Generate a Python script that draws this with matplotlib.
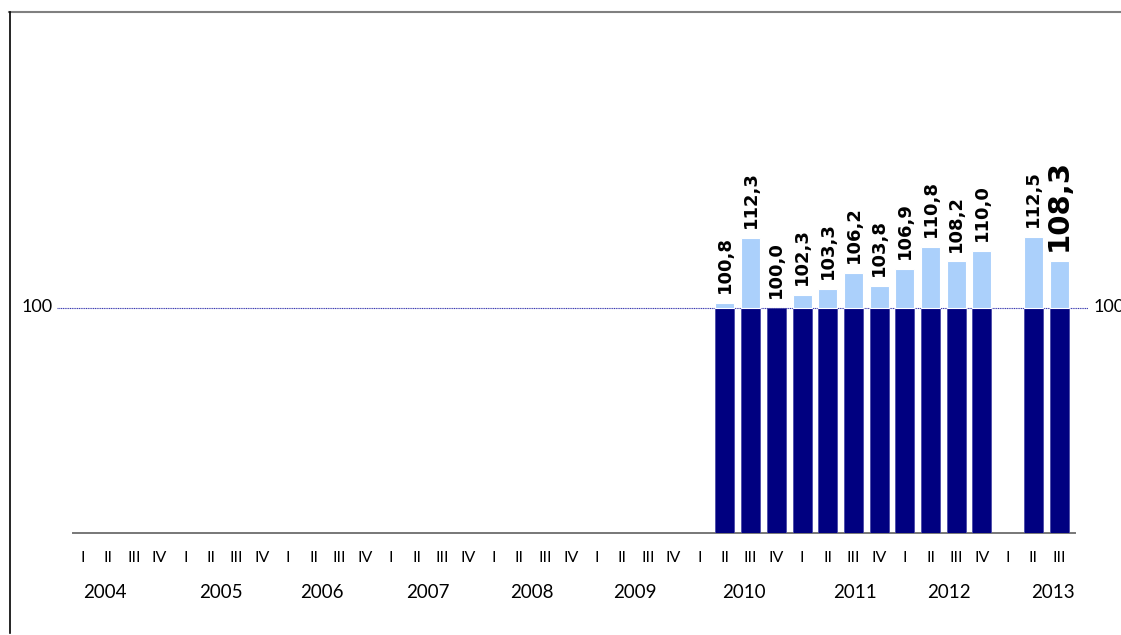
import numpy as np
import matplotlib
matplotlib.use("Agg")
import matplotlib.pyplot as plt
from matplotlib.lines import Line2D

# ---- data ----
years = ["2004", "2005", "2006", "2007", "2008", "2009", "2010", "2011", "2012", "2013"]
quarter_labels = ["I", "II", "III", "IV"] * 9 + ["I", "II", "III"]
values = [np.nan] * 25 + [100.8, 112.3, 100.0, 102.3, 103.3, 106.2, 103.8,
                          106.9, 110.8, 108.2, 110.0, np.nan, 112.5, 108.3]
value_labels = ["" if np.isnan(v) else f"{v:.1f}".replace(".", ",") for v in values]
base_value = 100
# year label positions (in quarter index units, as placed in the reference)
year_pos = [0.86, 5.39, 9.32, 13.45, 17.5, 21.5, 25.74, 30.05, 33.7, 37.76]

W, H = 1121, 635
fig = plt.figure(figsize=(W / 100, H / 100), dpi=100)
ax = fig.add_axes([73 / W, (H - 533) / H, 1002 / W, 451 / H])

ymin, ymax = 60, 140
x = np.arange(len(values))
vals = np.array(values, dtype=float)
has = ~np.isnan(vals)
up = has & (np.nan_to_num(vals) > base_value)

dark = "#000080"
light = "#abd0fb"
bw = 0.74

ax.bar(x[has], base_value - ymin, bottom=ymin, width=bw, color=dark,
       edgecolor="#4a4aa8", linewidth=0.6, zorder=3)
ax.bar(x[up], vals[up] - base_value, bottom=base_value, width=bw, color=light,
       edgecolor="white", linewidth=0.8, zorder=3)

# reference line at 100
ax.axhline(base_value, xmin=(57 - 73) / 1002, xmax=(1088 - 73) / 1002,
           color="#3a3ab0", linewidth=0.8, linestyle=(0, (1, 0.6)), clip_on=False, zorder=2)

tick_font = "Lato"
ax.text(-0.016 - 0.004, base_value, "100", transform=ax.get_yaxis_transform(),
        ha="right", va="center", fontsize=13, family=tick_font, color="black")
ax.text(1.013 + 0.005, base_value, "100", transform=ax.get_yaxis_transform(),
        ha="left", va="center", fontsize=13, family=tick_font, color="black",
        clip_on=False)

# value labels
last = int(np.where(has)[0][-1])
for i in np.where(has)[0]:
    big = (i == last)
    ax.annotate(value_labels[i], (x[i], vals[i]), xytext=(0, 7), textcoords="offset points",
                rotation=90, ha="center", va="bottom",
                fontsize=21 if big else 13, fontweight="bold", color="black",
                family="DejaVu Sans", zorder=5)

ax.set_xlim(-0.37, 38.62)
ax.set_ylim(ymin, ymax)

for s in ["top", "right", "left"]:
    ax.spines[s].set_visible(False)
ax.spines["bottom"].set_color("#777777")
ax.spines["bottom"].set_linewidth(1.4)
ax.set_yticks([])
ax.set_xticks([])

# quarter labels and year labels
for i, q in enumerate(quarter_labels):
    ax.text(x[i], -0.055, q, transform=ax.get_xaxis_transform(), ha="center", va="center",
            fontsize=11.5, family=tick_font, color="black")
for yp, yl in zip(year_pos, years):
    ax.text(yp, -0.132, yl, transform=ax.get_xaxis_transform(), ha="center", va="center",
            fontsize=13.5, family=tick_font, color="black")

# outer frame lines
fig.add_artist(Line2D([9 / W, 1.0], [1 - 12 / H, 1 - 12 / H], color="#808080", linewidth=1.5))
fig.add_artist(Line2D([10 / W, 10 / W], [1 - 12 / H, 1 - 633 / H], color="black", linewidth=1.2))

fig.savefig("out.png", dpi=100)
